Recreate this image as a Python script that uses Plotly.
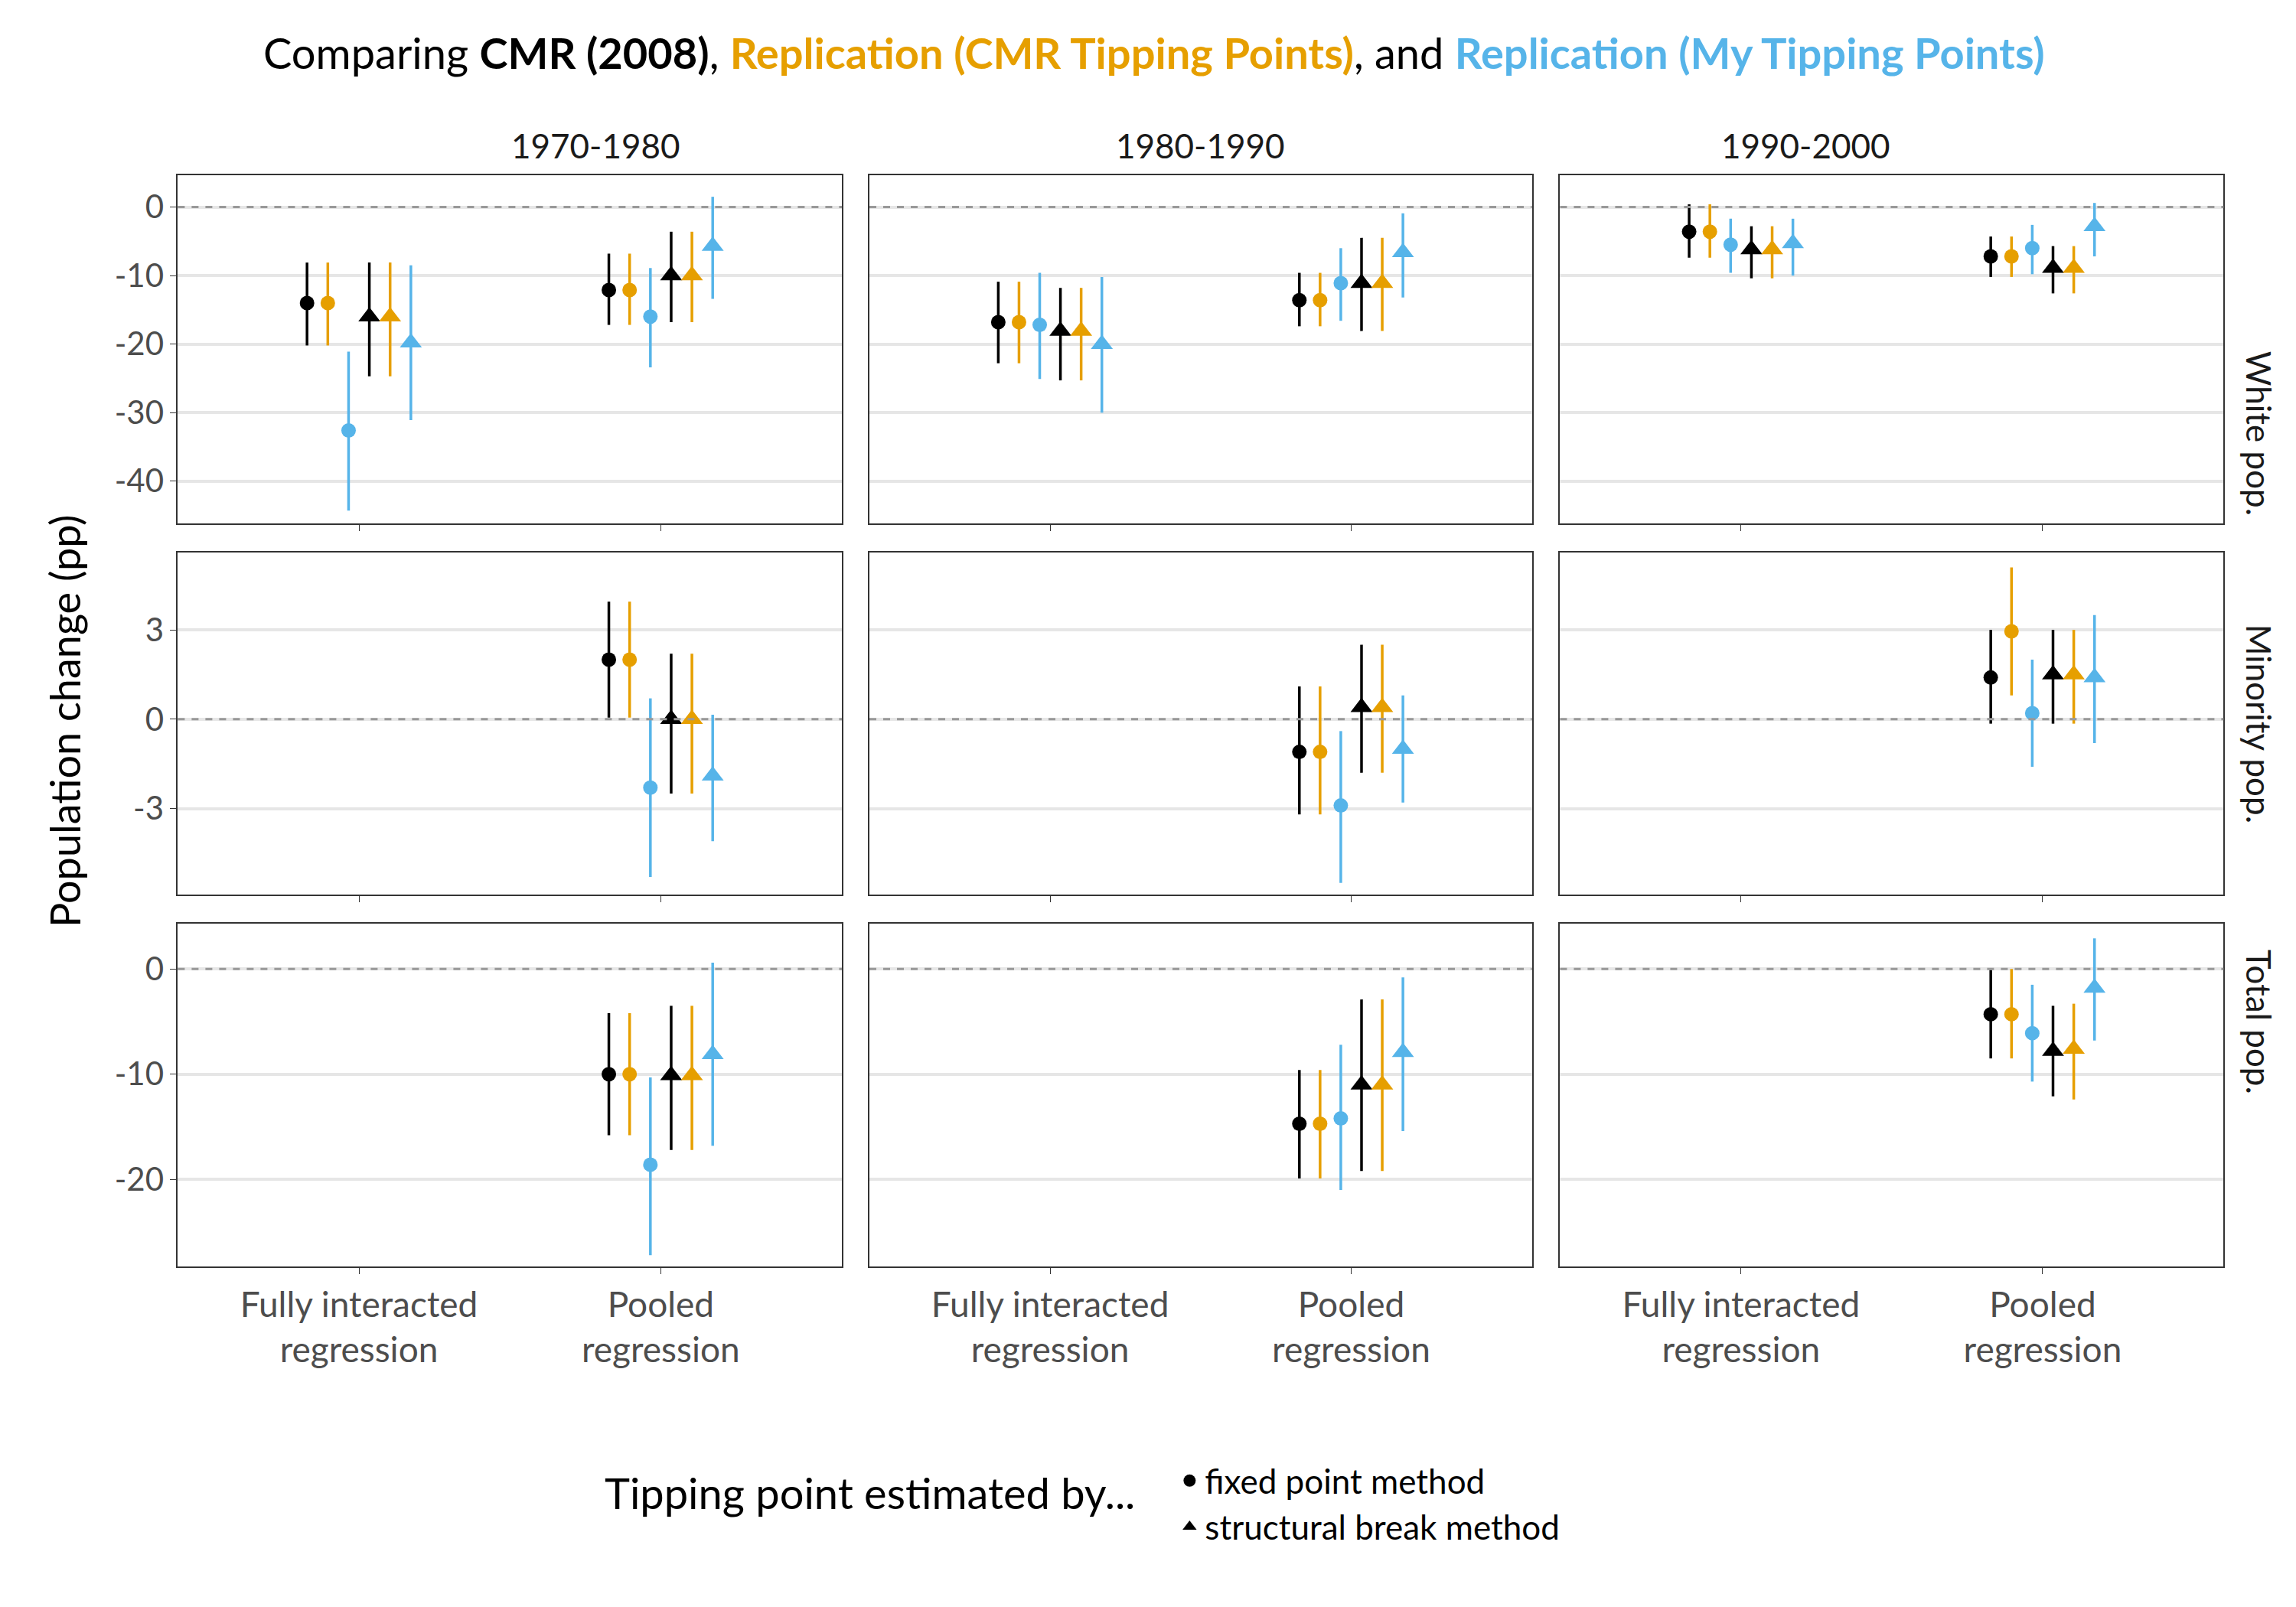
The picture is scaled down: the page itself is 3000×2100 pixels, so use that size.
import plotly.graph_objects as go
from plotly.subplots import make_subplots

periods = ["1970-1980", "1980-1990", "1990-2000"]
outcomes = ["White pop.", "Minority pop.", "Total pop."]
groups = ["Fully interacted<br>regression", "Pooled<br>regression"]

# each list: panel by panel (row = outcome, col = period), two groups per panel
# [est, lo, hi]; None where not estimated
cmr_fixed = [
    [-14.0, -20.2, -8.1], [-12.1, -17.2, -6.8],
    [-16.8, -22.8, -10.9], [-13.6, -17.4, -9.6],
    [-3.6, -7.4, 0.4], [-7.2, -10.2, -4.3],
    None, [2.0, 0.05, 3.95],
    None, [-1.1, -3.2, 1.1],
    None, [1.4, -0.15, 3.0],
    None, [-10.0, -15.8, -4.2],
    None, [-14.7, -19.9, -9.6],
    None, [-4.3, -8.5, -0.1],
]
rep_cmr_fixed = [
    [-14.0, -20.2, -8.1], [-12.1, -17.2, -6.8],
    [-16.8, -22.8, -10.9], [-13.6, -17.4, -9.6],
    [-3.6, -7.4, 0.4], [-7.2, -10.2, -4.3],
    None, [2.0, 0.05, 3.95],
    None, [-1.1, -3.2, 1.1],
    None, [2.95, 0.8, 5.1],
    None, [-10.0, -15.8, -4.2],
    None, [-14.7, -19.9, -9.6],
    None, [-4.3, -8.5, 0.0],
]
rep_my_fixed = [
    [-32.6, -44.3, -21.1], [-16.0, -23.4, -8.9],
    [-17.2, -25.1, -9.6], [-11.1, -16.6, -6.0],
    [-5.5, -9.6, -1.7], [-6.0, -9.8, -2.6],
    None, [-2.3, -5.3, 0.7],
    None, [-2.9, -5.5, -0.4],
    None, [0.2, -1.6, 2.0],
    None, [-18.6, -27.2, -10.3],
    None, [-14.2, -21.0, -7.2],
    None, [-6.1, -10.7, -1.5],
]
cmr_break = [
    [-16.0, -24.7, -8.1], [-10.0, -16.8, -3.6],
    [-18.1, -25.3, -11.8], [-11.1, -18.1, -4.5],
    [-6.2, -10.4, -2.8], [-8.9, -12.6, -5.7],
    None, [0.0, -2.5, 2.2],
    None, [0.4, -1.8, 2.5],
    None, [1.5, -0.15, 3.0],
    None, [-10.1, -17.2, -3.5],
    None, [-11.0, -19.2, -2.9],
    None, [-7.8, -12.1, -3.5],
]
rep_cmr_break = [
    [-16.0, -24.7, -8.1], [-10.0, -16.8, -3.6],
    [-18.1, -25.3, -11.8], [-11.1, -18.1, -4.5],
    [-6.2, -10.4, -2.8], [-8.9, -12.6, -5.7],
    None, [0.0, -2.5, 2.2],
    None, [0.4, -1.8, 2.5],
    None, [1.5, -0.15, 3.0],
    None, [-10.1, -17.2, -3.5],
    None, [-11.0, -19.2, -2.9],
    None, [-7.6, -12.4, -3.3],
]
rep_my_break = [
    [-19.8, -31.1, -8.5], [-5.7, -13.4, 1.5],
    [-20.0, -30.0, -10.2], [-6.6, -13.2, -0.9],
    [-5.3, -10.0, -1.7], [-2.8, -7.2, 0.6],
    None, [-1.9, -4.1, 0.15],
    None, [-1.0, -2.8, 0.8],
    None, [1.4, -0.8, 3.5],
    None, [-8.1, -16.8, 0.6],
    None, [-7.9, -15.4, -0.8],
    None, [-1.8, -6.8, 2.9],
]

BLACK, ORANGE, BLUE = "#000000", "#E69F00", "#56B4E9"
series = [
    (cmr_fixed, BLACK, "circle"),
    (rep_cmr_fixed, ORANGE, "circle"),
    (rep_my_fixed, BLUE, "circle"),
    (cmr_break, BLACK, "triangle-up"),
    (rep_cmr_break, ORANGE, "triangle-up"),
    (rep_my_break, BLUE, "triangle-up"),
]
sizes = {"circle": 19, "triangle-up": 25}

y_ranges = [[-46.2, 4.7], [-5.9, 5.6], [-28.3, 4.3]]
y_ticks = [[0, -10, -20, -30, -40], [3, 0, -3], [0, -10, -20]]

FONT = "Lato, Roboto, sans-serif"
fig = make_subplots(rows=3, cols=3, horizontal_spacing=0.012, vertical_spacing=0.02)

xd = [[0.0748, 0.364], [0.376, 0.6645], [0.6768, 0.9658]]
yd = [[0.678, 0.895], [0.447, 0.66], [0.2155, 0.429]]
dodge = 0.0688

for r in range(3):
    for c in range(3):
        p = r * 3 + c
        for k, (data, color, sym) in enumerate(series):
            xs, ys, up, dn = [], [], [], []
            for g in range(2):
                v = data[p * 2 + g]
                if v is None:
                    continue
                xs.append(g + (k - 2.5) * dodge)
                ys.append(v[0])
                up.append(v[2] - v[0])
                dn.append(v[0] - v[1])
            if not xs:
                continue
            fig.add_trace(go.Scatter(
                x=xs, y=ys, mode="markers", showlegend=False,
                marker=dict(color=color, symbol=sym, size=sizes[sym]),
                error_y=dict(type="data", array=up, arrayminus=dn, width=0,
                             thickness=3.5, color=color),
            ), row=r + 1, col=c + 1)
        ax = fig.layout[f"xaxis{p + 1 if p else ''}"]
        ax.update(domain=xd[c], range=[-0.6, 1.6], tickvals=[0, 1],
                  ticktext=groups if r == 2 else ["", ""],
                  showticklabels=(r == 2), showgrid=False, zeroline=False,
                  showline=True, mirror=True, linecolor="#333333", linewidth=2,
                  ticks="outside", ticklen=8, tickcolor="#333333",
                  tickfont=dict(size=46, color="#4d4d4d", family=FONT))
        ay = fig.layout[f"yaxis{p + 1 if p else ''}"]
        ay.update(domain=yd[r], range=y_ranges[r], tickvals=y_ticks[r],
                  ticktext=[str(t) for t in y_ticks[r]],
                  showticklabels=(c == 0), showgrid=True, gridcolor="#e6e6e6",
                  gridwidth=4, zeroline=False,
                  showline=True, mirror=True, linecolor="#333333", linewidth=2,
                  ticks="outside" if c == 0 else "", ticklen=8, tickcolor="#333333",
                  tickfont=dict(size=42, color="#4d4d4d", family=FONT))
        fig.add_hline(y=0, line=dict(color="#999999", dash="dash", width=3),
                      row=r + 1, col=c + 1)

for c in range(3):
    fig.add_annotation(text=periods[c], x=sum(xd[c]) / 2, y=0.9, xref="paper",
                       yref="paper", yanchor="bottom", showarrow=False,
                       font=dict(size=44, color="#1a1a1a", family=FONT))
for r in range(3):
    fig.add_annotation(text=outcomes[r], x=0.972, y=sum(yd[r]) / 2, xref="paper",
                       yref="paper", xanchor="left", textangle=90, showarrow=False,
                       font=dict(size=44, color="#1a1a1a", family=FONT))

fig.add_annotation(text="Population change (pp)", x=0.014, y=0.555, xref="paper",
                   yref="paper", textangle=-90, showarrow=False,
                   font=dict(size=54, color="black", family=FONT))

title = ("Comparing <b>CMR (2008)</b>, "
         f"<span style='color:{ORANGE}'><b>Replication (CMR Tipping Points)</b></span>, and "
         f"<span style='color:{BLUE}'><b>Replication (My Tipping Points)</b></span>")
fig.add_annotation(text=title, x=0.5, y=0.988, xref="paper", yref="paper",
                   xanchor="center", yanchor="top", showarrow=False,
                   font=dict(size=56, color="black", family=FONT))

fig.add_trace(go.Scatter(x=[None], y=[None], mode="markers", name="fixed point method",
                         marker=dict(color="black", symbol="circle", size=19)))
fig.add_trace(go.Scatter(x=[None], y=[None], mode="markers", name="structural break method",
                         marker=dict(color="black", symbol="triangle-up", size=25)))

fig.update_layout(
    width=3000, height=2100, margin=dict(l=0, r=0, t=0, b=0),
    plot_bgcolor="white", paper_bgcolor="white",
    font=dict(family=FONT),
    legend=dict(x=0.26, y=0.068, xanchor="left", yanchor="middle",
                title=dict(text="Tipping point estimated by...   ", side="left",
                           font=dict(size=56, color="black", family=FONT)),
                font=dict(size=44, color="black", family=FONT),
                itemsizing="trace"),
)

fig.write_html("out.html")
